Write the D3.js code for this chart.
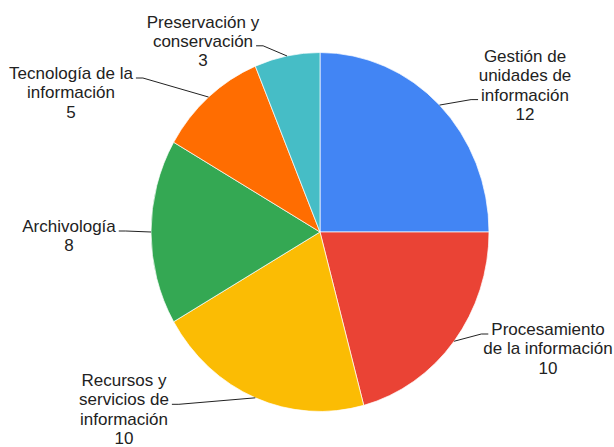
<!DOCTYPE html>
<html>
<head>
<meta charset="utf-8">
<script src="https://cdn.jsdelivr.net/npm/d3@7/dist/d3.min.js"></script>
<style>
  html, body { margin: 0; padding: 0; background: #fff; }
  svg { display: block; }
  text { font-family: "Liberation Sans", Arial, sans-serif; }
</style>
</head>
<body>
<svg id="chart" width="614" height="447"></svg>
<script>
// ---- data ----
const categories = [
  "Gestión de unidades de información",
  "Procesamiento de la información",
  "Recursos y servicios de información",
  "Archivología",
  "Tecnología de la información",
  "Preservación y conservación"
];
const values = [12, 10, 10, 8, 5, 3];
const colors = ["#4285f4", "#ea4335", "#fbbc04", "#34a853", "#ff6d01", "#46bdc6"];

// ---- label layout (text wrapping and placement) ----
const labelLines = [
  ["Gestión de", "unidades de", "información"],
  ["Procesamiento", "de la información"],
  ["Recursos y", "servicios de", "información"],
  ["Archivología"],
  ["Tecnología de la", "información"],
  ["Preservación y", "conservación"]
];
const labelLayout = [
  { cx: 525, y0: 62,  attach: 2, side: "left"  },
  { cx: 548, y0: 335, attach: 0, side: "left"  },
  { cx: 124, y0: 386, attach: 1, side: "right" },
  { cx: 69,  y0: 232, attach: 0, side: "right" },
  { cx: 71,  y0: 79,  attach: 0, side: "right" },
  { cx: 203, y0: 27.5, attach: 1, side: "right" }
];

const W = 614, H = 447;
const cx = 320, cy = 232, R = 169, ySquash = 1.062;
const lineH = 19.3;
const fontSize = 17;

const svg = d3.select("#chart");

const pie = d3.pie().sort(null).value(d => d)(values);
const arc = d3.arc().innerRadius(0).outerRadius(R);
const arcEdge = d3.arc().innerRadius(R).outerRadius(R);

const g = svg.append("g").attr("transform", `translate(${cx},${cy}) scale(1,${ySquash})`);
g.selectAll("path").data(pie).enter().append("path")
  .attr("d", arc)
  .attr("fill", (d, i) => colors[i])
  .attr("stroke", "#ffffff")
  .attr("stroke-width", 0.7)
  .attr("vector-effect", "non-scaling-stroke");

const labels = svg.append("g");
pie.forEach((d, i) => {
  const L = labelLayout[i];
  const lines = labelLines[i].concat([String(values[i])]);
  const t = labels.append("text")
    .attr("text-anchor", "middle")
    .attr("font-size", fontSize)
    .attr("fill", "#222222");
  const spans = lines.map((ln, k) =>
    t.append("tspan").attr("x", L.cx).attr("y", L.y0 + k * lineH).text(ln)
  );
  const w = spans[L.attach].node().getComputedTextLength();
  const ly = L.y0 + L.attach * lineH - 1;
  const dir = L.side === "left" ? -1 : 1;
  const ex = L.cx + dir * (w / 2 + 3);
  const elbowX = ex + dir * 7;
  const c = arcEdge.centroid(d);
  const px = cx + c[0], py = cy + c[1] * ySquash;
  labels.append("path")
    .attr("d", d3.line()([[ex, ly], [elbowX, ly], [px, py]]))
    .attr("fill", "none")
    .attr("stroke", "#222222")
    .attr("stroke-width", 1);
});
</script>
</body>
</html>
